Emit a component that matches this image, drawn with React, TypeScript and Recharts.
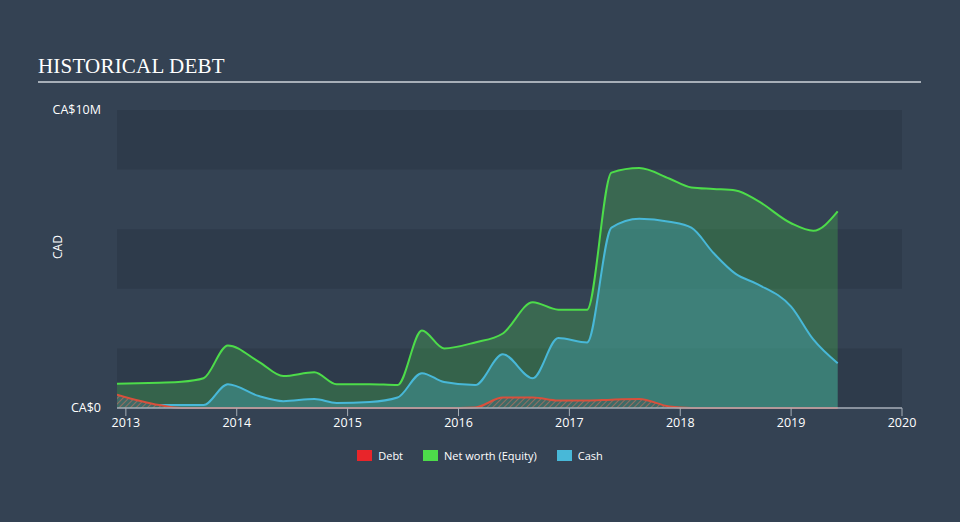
import React from 'react';
import { AreaChart, Area, XAxis, YAxis, ReferenceArea } from 'recharts';

const dates = [
  2012.92, 2013.3, 2013.5, 2013.7, 2013.92, 2014.2, 2014.42, 2014.7, 2014.9, 2015.2,
  2015.45, 2015.67, 2015.87, 2016.15, 2016.4, 2016.67, 2016.9, 2017.16, 2017.38, 2017.63,
  2017.9, 2018.1, 2018.3, 2018.5, 2018.7, 2019.0, 2019.2, 2019.42,
];
const netWorth = [
  0.81, 0.85, 0.88, 1.0, 2.1, 1.55, 1.07, 1.2, 0.8, 0.8,
  0.77, 2.6, 2.0, 2.2, 2.5, 3.55, 3.3, 3.3, 7.9, 8.05,
  7.7, 7.4, 7.35, 7.3, 6.95, 6.2, 5.95, 6.6,
];
const cash = [
  0.1, 0.1, 0.1, 0.1, 0.8, 0.4, 0.23, 0.3, 0.17, 0.2,
  0.35, 1.17, 0.87, 0.77, 1.8, 1.0, 2.35, 2.2, 6.05, 6.35,
  6.25, 6.05, 5.2, 4.5, 4.15, 3.4, 2.3, 1.5,
];
const debt = [
  0.45, 0.1, 0, 0, 0, 0, 0, 0, 0, 0,
  0, 0, 0, 0.02, 0.35, 0.35, 0.25, 0.25, 0.28, 0.3,
  0.05, 0, 0, 0, 0, 0, 0, 0,
];
const xTicks = [2013, 2014, 2015, 2016, 2017, 2018, 2019, 2020];
const yTicks = [0, 10];
const bands = [[0, 2], [4, 6], [8, 10]];

const legendItems = [
  { label: 'Debt', color: '#e8252a' },
  { label: 'Net worth (Equity)', color: '#4ddc4a' },
  { label: 'Cash', color: '#48b8d8' },
];

const data = dates.map((t, i) => ({ t, netWorth: netWorth[i], cash: cash[i], debt: debt[i] }));

const font = '"Open Sans", "DejaVu Sans", sans-serif';

export default function App() {
  return (
    <div style={{ position: 'absolute', left: 0, top: 0, width: 960, height: 522, background: '#344253', overflow: 'hidden' }}>
      <div style={{ position: 'absolute', left: 38, top: 54, fontFamily: '"Liberation Serif", serif', fontSize: 21, color: '#ffffff', letterSpacing: 0.2 }}>
        HISTORICAL DEBT
      </div>
      <div style={{ position: 'absolute', left: 38, top: 81, width: 883, height: 2, background: '#a7afb8' }} />
      <div style={{ position: 'absolute', left: 0, top: 0 }}>
        <AreaChart width={960} height={522} data={data} margin={{ top: 110, right: 58, bottom: 84, left: 0 }}>
          <defs>
            <pattern id="hatch" patternUnits="userSpaceOnUse" width="4" height="4" patternTransform="rotate(45)">
              <rect width="4" height="4" fill="#3f6a66" />
              <line x1="0" y1="0" x2="0" y2="4" stroke="#b07060" strokeWidth="1.5" />
            </pattern>
          </defs>
          {bands.map(([a, b]) => (
            <ReferenceArea key={a} y1={a} y2={b} x1={2012.92} x2={2020} fill="#2d3a4a" fillOpacity={0.8} stroke="none" ifOverflow="visible" />
          ))}
          <XAxis
            dataKey="t"
            type="number"
            domain={[2012.92, 2020]}
            ticks={xTicks}
            allowDataOverflow
            height={30}
            tick={{ fill: '#ffffff', fontSize: 12.5, fontFamily: font }}
            tickLine={{ stroke: '#a7afb8' }}
            axisLine={{ stroke: '#a7afb8', strokeWidth: 1.5 }}
            tickSize={8}
            tickMargin={2}
          />
          <YAxis
            type="number"
            domain={[0, 10]}
            ticks={yTicks}
            width={117}
            axisLine={false}
            tickLine={false}
            tickMargin={10}
            tickFormatter={(v: number) => (v === 0 ? 'CA$0' : `CA$${v}M`)}
            tick={{ fill: '#ffffff', fontSize: 12.5, fontFamily: font }}
            label={{ value: 'CAD', angle: -90, position: 'insideLeft', offset: 58, fill: '#ffffff', fontSize: 12, fontFamily: font }}
          />
          <Area type="monotone" dataKey="netWorth" stroke="#4ddc4a" strokeWidth={2} fill="#4ddc4a" fillOpacity={0.25} isAnimationActive={false} />
          <Area type="monotone" dataKey="cash" stroke="#48b8d8" strokeWidth={2} fill="#48b8d8" fillOpacity={0.3} isAnimationActive={false} />
          <Area type="monotone" dataKey="debt" stroke="#d9503c" strokeWidth={2} fill="url(#hatch)" fillOpacity={1} isAnimationActive={false} />
        </AreaChart>
      </div>
      <div style={{ position: 'absolute', top: 448, left: 0, width: 960, display: 'flex', justifyContent: 'center', gap: 20, fontFamily: font, fontSize: 11, color: '#ffffff' }}>
        {legendItems.map((item) => (
          <div key={item.label} style={{ display: 'flex', alignItems: 'center', gap: 6 }}>
            <span style={{ display: 'inline-block', width: 15, height: 11, background: item.color }} />
            <span>{item.label}</span>
          </div>
        ))}
      </div>
    </div>
  );
}
